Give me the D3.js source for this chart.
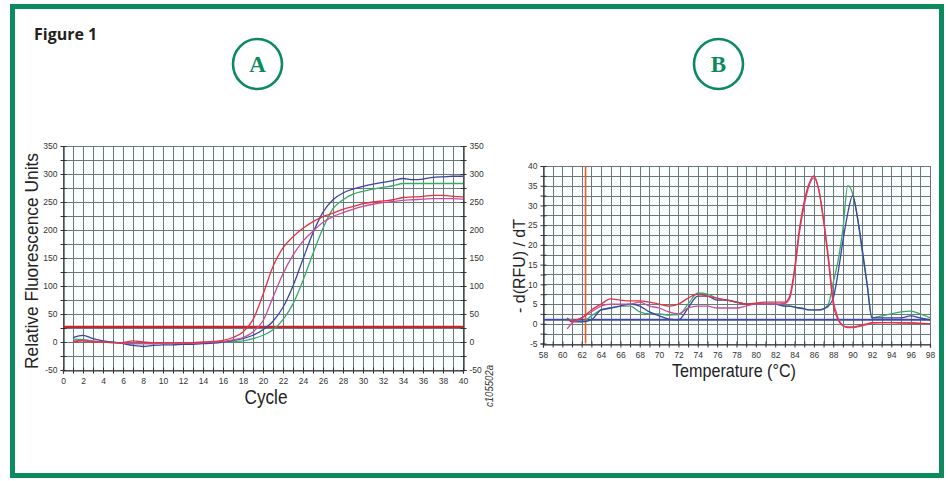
<!DOCTYPE html>
<html><head><meta charset="utf-8">
<script src="https://cdn.jsdelivr.net/npm/d3@7"></script>
<style>
html,body{margin:0;padding:0;background:#fff;}
svg{display:block;}
</style></head>
<body>
<svg id="chart" width="948" height="481" font-family="Liberation Sans, Arial, sans-serif"></svg>
<script>
// ---------- Panel A data (amplification) ----------
const cycles = d3.range(1, 41);
const ampRed = [0,2,0,0,-1,-1,2,0,-1,-1,-1,-1,-1,0,1,3,8,18,40,85,135,168,188,203,215,224,230,237,242,247,250,252,254,258,259,260,262,262,260,259];
const ampMagenta = [2,3,1,0,-1,-2,-3,-3,-3,-2,-2,-2,-2,-1,0,1,4,8,18,38,80,122,155,180,198,214,224,231,237,242,246,249,251,253,254,255,256,256,256,255];
const ampBlue = [8,12,6,2,0,-3,-6,-8,-6,-5,-5,-4,-4,-3,-2,0,3,6,12,22,37,62,100,148,195,232,254,266,273,278,282,285,288,292,290,291,294,295,296,296];
const ampGreen = [5,4,2,0,-1,-2,-3,-3,-3,-2,-2,-2,-2,-2,-1,0,1,2,6,12,22,40,68,110,158,203,238,254,264,269,273,276,279,283,283,283,283,283,283,283];
const ampThreshold = 27;
const cycleTicks = d3.range(0, 41, 2);
const rfuTicks = d3.range(-50, 351, 50);

// ---------- Panel B data (melt curve) ----------
const temps = [60.5,61,62,63,64,65,66,67,68,69,70,71,72,73,74,75,76,77,78,79,80,81,82,83,83.5,84,84.5,85,85.5,86,86.5,87,87.5,88,88.5,89,89.5,90,90.5,91,91.5,92,93,94,95,96,97,98];
const meltRed = [1.0,0.8,1.5,3.5,5,6.3,6,5.8,5.8,5.5,5,4.5,5,6.5,7.5,7,6.5,6,5.5,5,5.2,5.5,5.5,5.5,7,14,24,31,35.5,37.5,34,26,16,5,1,-0.5,-0.8,-0.8,-0.6,-0.3,0,0.3,0.3,0.3,0.3,0.2,0.1,0];
const meltMagenta = [-1.3,0.2,1.5,3,4.5,5,5,5,5.5,4.5,4,3,2.5,4,4.5,4.5,4,4,4,4.5,5,5,5,5.2,6.5,13,23,30,35,37,34,26.5,17,6,1.5,-0.5,-1,-1,-0.8,-0.5,-0.2,0.2,0.3,0.3,0.2,0.2,0.1,0];
const meltGreen = [1.2,1.0,0.5,2,3.5,4,4.5,4.5,3,2.5,2.5,2.2,2.3,5,7.8,7.5,6.5,6,5.5,5,5,5,5,4.5,4.5,4.2,4,3.8,3.5,3.5,3.5,3.8,5,10.5,16,24,35,33,27,18,10,1.5,2,2.5,3,3.2,2.5,1.5];
const meltBlue = [1.5,0.5,0.5,1,3.5,4,4.5,5,4.5,3,2,1.2,1,4,7,7,6,6,5.5,5,5,5,5,4.5,4.5,4.2,4,3.8,3.5,3.5,3.5,3.8,4.5,6.5,13,21,28,32.5,27,19,10,1.5,1.5,1.5,1.5,2,1.5,1];
const meltBaseline = 1.0;
const meltMarker = 62.4;
const tempTicks = d3.range(58, 99, 2);
const derivTicks = d3.range(-5, 41, 5);

// ---------- drawing ----------
const svg = d3.select("#chart");
const GREEN = "#0b8a5e";
const GRID = "#6c7878";
const AXIS = "#333";
const NARROW = "'Liberation Sans Narrow','Arial Narrow','Liberation Sans',Arial,sans-serif";
const C = {red:"#e5323f", magenta:"#c94c9c", blue:"#3b43a3", green:"#3aa86c"};

// frame
svg.append("rect").attr("x",12.5).attr("y",6.5).attr("width",929).attr("height",469)
  .attr("fill","#fff").attr("stroke",GREEN).attr("stroke-width",5);
svg.append("text").attr("x",34).attr("y",40).text("Figure 1")
  .style("font-family","'Open Sans',Lato,sans-serif").attr("font-weight","bold")
  .attr("font-size",16).attr("fill","#231f20");

function badge(cx, cy, letter){
  svg.append("ellipse").attr("cx",cx).attr("cy",cy).attr("rx",24.5).attr("ry",25)
    .attr("fill","none").attr("stroke",GREEN).attr("stroke-width",2.6);
  svg.append("text").attr("x",cx).attr("y",cy+8).attr("text-anchor","middle")
    .style("font-family","'Liberation Serif','DejaVu Serif',serif").attr("font-weight","bold")
    .attr("font-size",23).attr("fill",GREEN).text(letter);
}
badge(257.5, 64, "A");
badge(718.5, 64, "B");

function panel(opts){
  const g = svg.append("g");
  const x = d3.scaleLinear().domain(opts.xd).range(opts.xr);
  const y = d3.scaleLinear().domain(opts.yd).range(opts.yr);
  const [x0,x1] = opts.xr, [y0,y1] = opts.yr;
  g.append("rect").attr("x",x0).attr("y",y1).attr("width",x1-x0).attr("height",y0-y1).attr("fill","#fbfefe");
  // grid
  g.append("g").selectAll("line").data(opts.xGrid).join("line")
    .attr("x1",d=>Math.round(x(d))+0.5).attr("x2",d=>Math.round(x(d))+0.5)
    .attr("y1",y1).attr("y2",y0).attr("stroke",GRID).attr("stroke-width",1);
  g.append("g").selectAll("line").data(opts.yGrid).join("line")
    .attr("y1",d=>Math.round(y(d))+0.5).attr("y2",d=>Math.round(y(d))+0.5)
    .attr("x1",x0).attr("x2",x1).attr("stroke",GRID).attr("stroke-width",1);
  // axes
  const fs = 8.5;
  const bottom = g.append("g").attr("transform",`translate(0,${Math.round(y0)+0.5})`)
    .call(d3.axisBottom(x).tickValues(opts.xGrid).tickSize(3).tickFormat(d=>opts.xTicks.includes(d)?d:""));
  const left = g.append("g").attr("transform",`translate(${Math.round(x0)+0.5},0)`)
    .call(d3.axisLeft(y).tickValues(opts.yGrid).tickSize(3).tickFormat(d=>opts.yTicks.includes(d)?d:""));
  [bottom,left].forEach(a=>{
    a.attr("font-family",null);
    a.selectAll("path").attr("stroke",AXIS).attr("stroke-width",1.2);
    a.selectAll("line").attr("stroke",AXIS);
    a.selectAll("text").attr("font-size",fs).attr("fill","#333").style("font-family",NARROW);
  });
  bottom.selectAll("text").attr("dy","0.9em");
  bottom.selectAll(".tick line").attr("y1",-3);
  left.selectAll(".tick line").attr("x1",3);
  if(opts.right){
    const right = g.append("g").attr("transform",`translate(${Math.round(x1)+0.5},0)`)
      .call(d3.axisRight(y).tickValues(opts.yGrid).tickSize(3).tickFormat(d=>opts.yTicks.includes(d)?d:""));
    right.selectAll("path").attr("stroke",AXIS).attr("stroke-width",1.2);
    right.selectAll("line").attr("stroke",AXIS).attr("x1",-3);
    right.selectAll("text").attr("font-size",fs).attr("fill","#333").style("font-family",NARROW);
  } else {
    g.append("line").attr("x1",Math.round(x1)+0.5).attr("x2",Math.round(x1)+0.5).attr("y1",y1).attr("y2",y0).attr("stroke",GRID);
  }
  return {g,x,y};
}

// Panel A
const A = panel({xd:[0,40], xr:[63,463], yd:[-50,350], yr:[370,146],
  xGrid:d3.range(0,41,1), yGrid:d3.range(-50,351,25), xTicks:cycleTicks, yTicks:rfuTicks, right:true});
const lineA = d3.line().x((d,i)=>A.x(cycles[i])).y(d=>A.y(d)).curve(d3.curveMonotoneX);
A.g.append("line").attr("x1",A.x(0)).attr("x2",A.x(40)).attr("y1",A.y(ampThreshold)).attr("y2",A.y(ampThreshold))
  .attr("stroke","#c4262c").attr("stroke-width",2.2);
[[ampGreen,C.green],[ampBlue,C.blue],[ampMagenta,C.magenta],[ampRed,C.red]].forEach(([s,c])=>{
  A.g.append("path").attr("d",lineA(s)).attr("fill","none").attr("stroke",c).attr("stroke-width",1.3);
});
svg.append("text").attr("transform","translate(38,261) rotate(-90)").attr("text-anchor","middle")
  .style("font-family",NARROW).attr("font-size",19).attr("fill","#222").attr("textLength",216).attr("lengthAdjust","spacingAndGlyphs")
  .text("Relative Fluorescence Units");
svg.append("text").attr("x",266).attr("y",404).attr("text-anchor","middle")
  .style("font-family",NARROW).attr("font-size",20).attr("fill","#222").attr("textLength",43).attr("lengthAdjust","spacingAndGlyphs").text("Cycle");
svg.append("text").attr("transform","translate(493,386) rotate(-90)").attr("text-anchor","middle")
  .style("font-family",NARROW).attr("font-size",10).attr("font-style","italic").attr("fill","#333").attr("textLength",42).attr("lengthAdjust","spacingAndGlyphs").text("c105502a");

// Panel B
const B = panel({xd:[58,98], xr:[543,930], yd:[-5,40], yr:[343.5,166],
  xGrid:d3.range(58,99,1), yGrid:d3.range(-5,40.1,2.5), xTicks:tempTicks, yTicks:derivTicks, right:false});
B.g.append("line").attr("x1",B.x(58)).attr("x2",B.x(98)).attr("y1",B.y(meltBaseline)).attr("y2",B.y(meltBaseline))
  .attr("stroke","#4048a8").attr("stroke-width",2);
B.g.append("line").attr("x1",B.x(meltMarker)).attr("x2",B.x(meltMarker)).attr("y1",B.y(40)).attr("y2",B.y(-5))
  .attr("stroke","#ee5a2a").attr("stroke-width",1.6);
const lineB = d3.line().x((d,i)=>B.x(temps[i])).y(d=>B.y(d)).curve(d3.curveMonotoneX);
[[meltGreen,C.green],[meltBlue,C.blue],[meltMagenta,C.magenta],[meltRed,C.red]].forEach(([s,c])=>{
  B.g.append("path").attr("d",lineB(s)).attr("fill","none").attr("stroke",c).attr("stroke-width",1.3);
});
svg.append("text").attr("transform","translate(525,266) rotate(-90)").attr("text-anchor","middle")
  .style("font-family",NARROW).attr("font-size",17).attr("fill","#222").attr("textLength",94).attr("lengthAdjust","spacingAndGlyphs")
  .text("- d(RFU) / dT");
svg.append("text").attr("x",734).attr("y",377).attr("text-anchor","middle")
  .style("font-family",NARROW).attr("font-size",19).attr("fill","#222").attr("textLength",124).attr("lengthAdjust","spacingAndGlyphs")
  .text("Temperature (°C)");
</script>
</body></html>
